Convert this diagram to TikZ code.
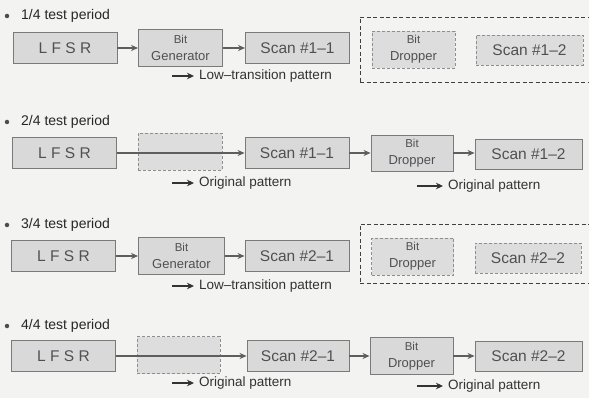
\documentclass[tikz,border=0pt]{standalone}
\usepackage{fontspec}
\setmainfont{Liberation Sans}
\usetikzlibrary{arrows.meta}
\definecolor{bg}{HTML}{F3F3F1}
\definecolor{boxfill}{HTML}{D9D9D9}
\definecolor{boxdraw}{HTML}{7A7A7A}
\definecolor{txt}{HTML}{505050}
\definecolor{arr}{HTML}{5E5E5E}
\begin{document}
\begin{tikzpicture}[x=1pt,y=-1pt,
 blk/.style={draw=boxdraw, fill=boxfill, line width=0.9pt, text=txt, inner sep=0pt, align=center},
 ghost/.style={blk, dash pattern=on 3pt off 2pt, draw=boxdraw!85, fill=boxfill!85!bg},
 group/.style={draw=black!75, dash pattern=on 4pt off 2.5pt, line width=0.8pt, inner sep=0pt},
 conn/.style={draw=arr, line width=1.2pt, -{Stealth[length=7pt,width=6pt]}},
 legar/.style={draw=black!80, line width=1.5pt, -{Stealth[length=7pt,width=6.5pt]}},
 ttl/.style={anchor=west, font=\fontsize{14}{16}\selectfont, text=black!85, inner sep=0pt},
 lab/.style={anchor=west, font=\fontsize{13.5}{15}\selectfont, text=black!80, inner sep=0pt},
 dotb/.style={circle, fill=black!70, inner sep=0pt, minimum size=4.5pt},
 big/.style={font=\fontsize{15.5}{17}\selectfont},
 two/.style={font=\fontsize{13}{17}\selectfont},
 wide/.style={minimum width=104pt, minimum height=31pt},
 mid/.style={minimum width=84pt, minimum height=37pt},
 last/.style={minimum width=107pt, minimum height=30pt},
]
\path[use as bounding box, fill=bg] (0,0) rectangle (589,398);
\clip (0,0) rectangle (589,398);
\newcommand{\bitline}{{\fontsize{11.5}{13}\selectfont Bit}}

% ---------- Row 1 ----------
\node[dotb] (d1) at (7,16) {};
\node[ttl] (t1) at (21,16) {1/4 test period};
\node[group, minimum width=236pt, minimum height=65pt] (g1) at (478,49.5) {};
\node[blk, big, wide] (lfsr1) at (65,48) {L F S R};
\node[blk, two, mid] (gen1) at (180.5,48) {\bitline\\Generator};
\node[blk, big, wide] (s11a) at (297.5,48) {Scan \#1--1};
\node[ghost, two, mid, minimum width=83pt] (dr1) at (413.5,49.5) {\bitline\\Dropper};
\node[ghost, big, last] (s12a) at (529.5,50) {Scan \#1--2};
\draw[conn] (lfsr1) -- (gen1);
\draw[conn] (gen1) -- (s11a);
\coordinate (la1) at (172,76);
\node[lab] (lt1) at (199,76) {Low--transition pattern};
\draw[legar] (la1) -- ([xshift=-5pt]lt1.west);

% ---------- Row 2 ----------
\node[dotb] (d2) at (7,122) {};
\node[ttl] (t2) at (21,122) {2/4 test period};
\node[blk, big, wide] (lfsr2) at (64.5,153) {L F S R};
\node[ghost, mid] (e2) at (180,152) {};
\node[blk, big, wide] (s11b) at (297,153) {Scan \#1--1};
\node[blk, two, mid, minimum width=82pt, minimum height=36pt] (dr2) at (412,153) {\bitline\\Dropper};
\node[blk, big, last] (s12b) at (528.5,154) {Scan \#1--2};
\draw[conn] (lfsr2) -- (s11b);
\draw[conn] (s11b) -- (dr2);
\draw[conn] (dr2.east) -- (s12b.west |- dr2.east);
\coordinate (la2) at (172,183);
\node[lab] (lt2) at (199,183) {Original pattern};
\draw[legar] (la2) -- ([xshift=-5pt]lt2.west);
\coordinate (la3) at (417,186);
\node[lab] (lt3) at (448,186) {Original pattern};
\draw[legar] (la3) -- ([xshift=-5pt]lt3.west);

% ---------- Row 3 ----------
\node[dotb] (d3) at (7,225) {};
\node[ttl] (t3) at (21,225) {3/4 test period};
\node[group, minimum width=236pt, minimum height=59pt] (g3) at (478,253.5) {};
\node[blk, big, wide] (lfsr3) at (63.5,256) {L F S R};
\node[blk, two, mid, minimum width=86pt] (gen3) at (181.5,256) {\bitline\\Generator};
\node[blk, big, wide] (s21a) at (297,256) {Scan \#2--1};
\node[ghost, two, mid, minimum width=82pt] (dr3) at (412.5,256.5) {\bitline\\Dropper};
\node[ghost, big, last, minimum width=106pt] (s22a) at (528,258) {Scan \#2--2};
\draw[conn] (lfsr3) -- (gen3);
\draw[conn] (gen3) -- (s21a);
\coordinate (la4) at (172,286);
\node[lab] (lt4) at (199,286) {Low--transition pattern};
\draw[legar] (la4) -- ([xshift=-5pt]lt4.west);

% ---------- Row 4 ----------
\node[dotb] (d4) at (7,326) {};
\node[ttl] (t4) at (21,326) {4/4 test period};
\node[blk, big, wide] (lfsr4) at (63.5,356) {L F S R};
\node[ghost, mid, minimum width=83pt] (e4) at (178.5,355) {};
\node[blk, big, wide, minimum width=102pt] (s21b) at (298,356) {Scan \#2--1};
\node[blk, two, mid, minimum width=83pt, minimum height=37pt] (dr4) at (411.5,356) {\bitline\\Dropper};
\node[blk, big, last] (s22b) at (528.5,356) {Scan \#2--2};
\draw[conn] (lfsr4) -- (s21b);
\draw[conn] (s21b) -- (dr4);
\draw[conn] (dr4) -- (s22b);
\coordinate (la5) at (172,383);
\node[lab] (lt5) at (199,383) {Original pattern};
\draw[legar] (la5) -- ([xshift=-5pt]lt5.west);
\coordinate (la6) at (417,386);
\node[lab] (lt6) at (448,386) {Original pattern};
\draw[legar] (la6) -- ([xshift=-5pt]lt6.west);
\end{tikzpicture}
\end{document}
